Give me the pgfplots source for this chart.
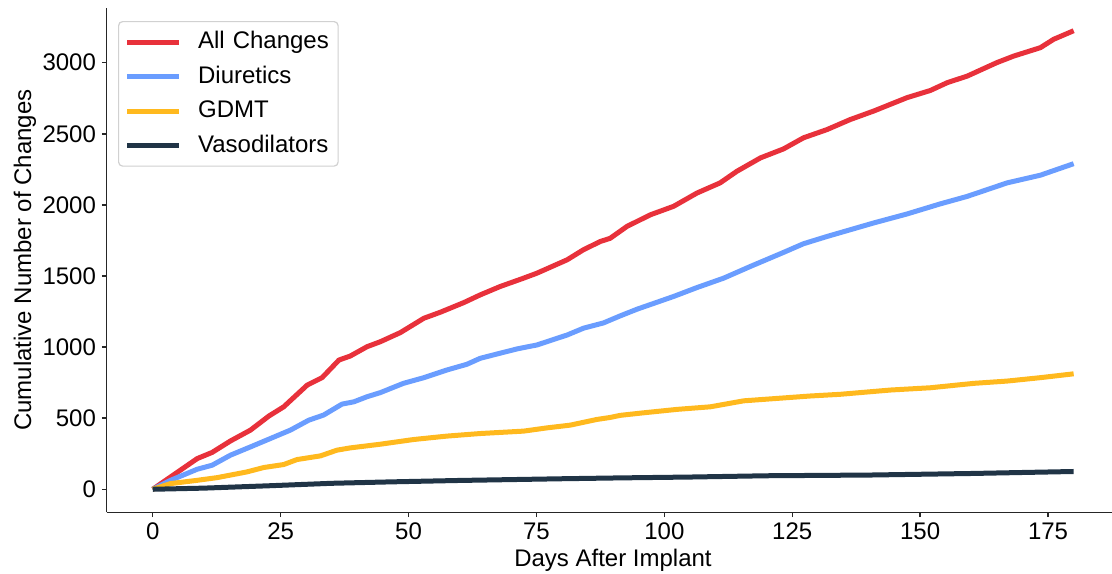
\documentclass[border=0pt]{standalone}
\usepackage{fontspec}
\setmainfont{Liberation Sans}
\usepackage{pgfplots}
\pgfplotsset{compat=1.18}
\definecolor{cred}{RGB}{232,49,59}
\definecolor{cblue}{RGB}{106,157,255}
\definecolor{cyel}{RGB}{255,185,30}
\definecolor{cnavy}{RGB}{32,52,70}
\begin{document}
\begin{tikzpicture}
\begin{axis}[
  scale only axis, width=502.65pt, height=252.15pt,
  xmin=-9, xmax=187.5, ymin=-162, ymax=3385,
  axis x line*=bottom, axis y line*=left,
  axis line style={-, line width=0.75pt, black!85},
  xtick={0,25,50,75,100,125,150,175},
  ytick={0,500,1000,1500,2000,2500,3000},
  tick align=outside, major tick length=2.4pt,
  tick style={line width=0.7pt, black!85},
  scaled y ticks=false,
  /pgf/number format/assume math mode=true,
  /pgf/number format/set thousands separator={},
  ticklabel style={font=\fontsize{12}{14}\selectfont},
  xticklabel style={inner ysep=2.5pt},
  yticklabel style={inner xsep=2.8pt},
  xlabel={Days After Implant},
  ylabel={Cumulative Number of Changes},
  every axis x label/.style={at={(axis description cs:0.5036,0)}, anchor=base, yshift=-26.9pt, font=\fontsize{12}{14}\selectfont},
  every axis y label/.style={at={(axis description cs:0,0.5)}, xshift=-40.9pt, rotate=90, anchor=center, font=\fontsize{12}{14}\selectfont},
  legend cell align=left,
  legend image code/.code={\draw[#1, line width=2.5pt] (0pt,0pt) -- (26pt,0pt);},
  legend style={at={(axis description cs:0.01124,0.9742)}, anchor=north west,
    draw=black!18, rounded corners=2pt, line width=0.6pt,
    font=\fontsize{12}{14}\selectfont,
    inner xsep=3pt, inner ysep=4.5pt,
    nodes={inner sep=0pt, text height=9pt, text depth=2.5pt},
    row sep=5.75pt,
    /tikz/every odd column/.append style={column sep=8.25pt},
    /tikz/every even column/.append style={nodes={text width=67pt}}},
  every axis plot/.append style={line width=2.5pt, line join=round},
]
\addplot[cred] coordinates {
(0,0) (3.5,87) (8.7,216) (11.6,259) (15.2,340) (19.1,416) (22.7,515) (25.6,580)
(30.2,733) (33.1,785) (36.4,909) (38.6,937) (41.9,1003) (44.5,1038) (48.4,1102)
(53,1203) (56.2,1245) (60.8,1313) (64,1367) (67.9,1426) (72.5,1485) (75.1,1520)
(81,1614) (84.2,1685) (87.5,1743) (89.4,1765) (92.7,1849) (97.3,1931) (101.8,1990)
(106.4,2084) (110.9,2155) (114.2,2237) (118.8,2331) (123.3,2394) (127.2,2472)
(131.8,2530) (136.3,2600) (140.9,2660) (147.4,2754) (152,2805) (155.3,2860)
(159.2,2906) (165,3001) (168.3,3047) (173.5,3106) (176.1,3165) (180,3225)
};
\addlegendentry{All Changes}
\addplot[cblue] coordinates {
(0,0) (3.5,63) (8.7,141) (11.6,169) (15.2,240) (19.1,298) (23,357) (26.9,416)
(30.5,486) (33.4,522) (37,599) (39.3,615) (41.9,651) (44.5,680) (49,745) (53,785)
(57.5,839) (61.4,879) (64,921) (67.9,957) (71.2,987) (75.1,1015) (81,1085)
(84.2,1133) (88.1,1170) (91.4,1220) (94.7,1267) (101.8,1356) (106.4,1419)
(111.6,1485) (116.8,1567) (123.3,1666) (127.2,1727) (131.8,1778) (136.3,1825)
(140.9,1873) (147.4,1936) (153.9,2007) (159.2,2060) (167,2155) (173.5,2209) (180,2290)
};
\addlegendentry{Diuretics}
\addplot[cyel] coordinates {
(0,0) (3.5,40) (8.7,63) (12.6,82) (18.4,122) (21.7,153) (25.6,174) (28.2,209)
(32.8,235) (36,275) (38.6,291) (44.5,317) (51,350) (57.5,374) (64,392) (72.5,409)
(77.1,432) (81.6,451) (86.8,491) (89.4,505) (91.4,520) (96,538) (102.5,562)
(109,580) (115.5,622) (122,639) (128.5,656) (134.4,668) (144.2,698) (152,714)
(160.5,745) (167,761) (173.5,785) (180,812)
};
\addlegendentry{GDMT}
\addplot[cnavy] coordinates {
(0,0) (10,8) (23,25) (35,42) (46.5,52) (60,62) (70,68) (80,74) (91.4,80) (105,86)
(120,95) (140,100) (160,111) (180,125)
};
\addlegendentry{Vasodilators}
\end{axis}
\pgfresetboundingbox
\path[use as bounding box] (-53.35pt,-30.35pt) rectangle (502.65pt,256.15pt);
\end{tikzpicture}
\end{document}
